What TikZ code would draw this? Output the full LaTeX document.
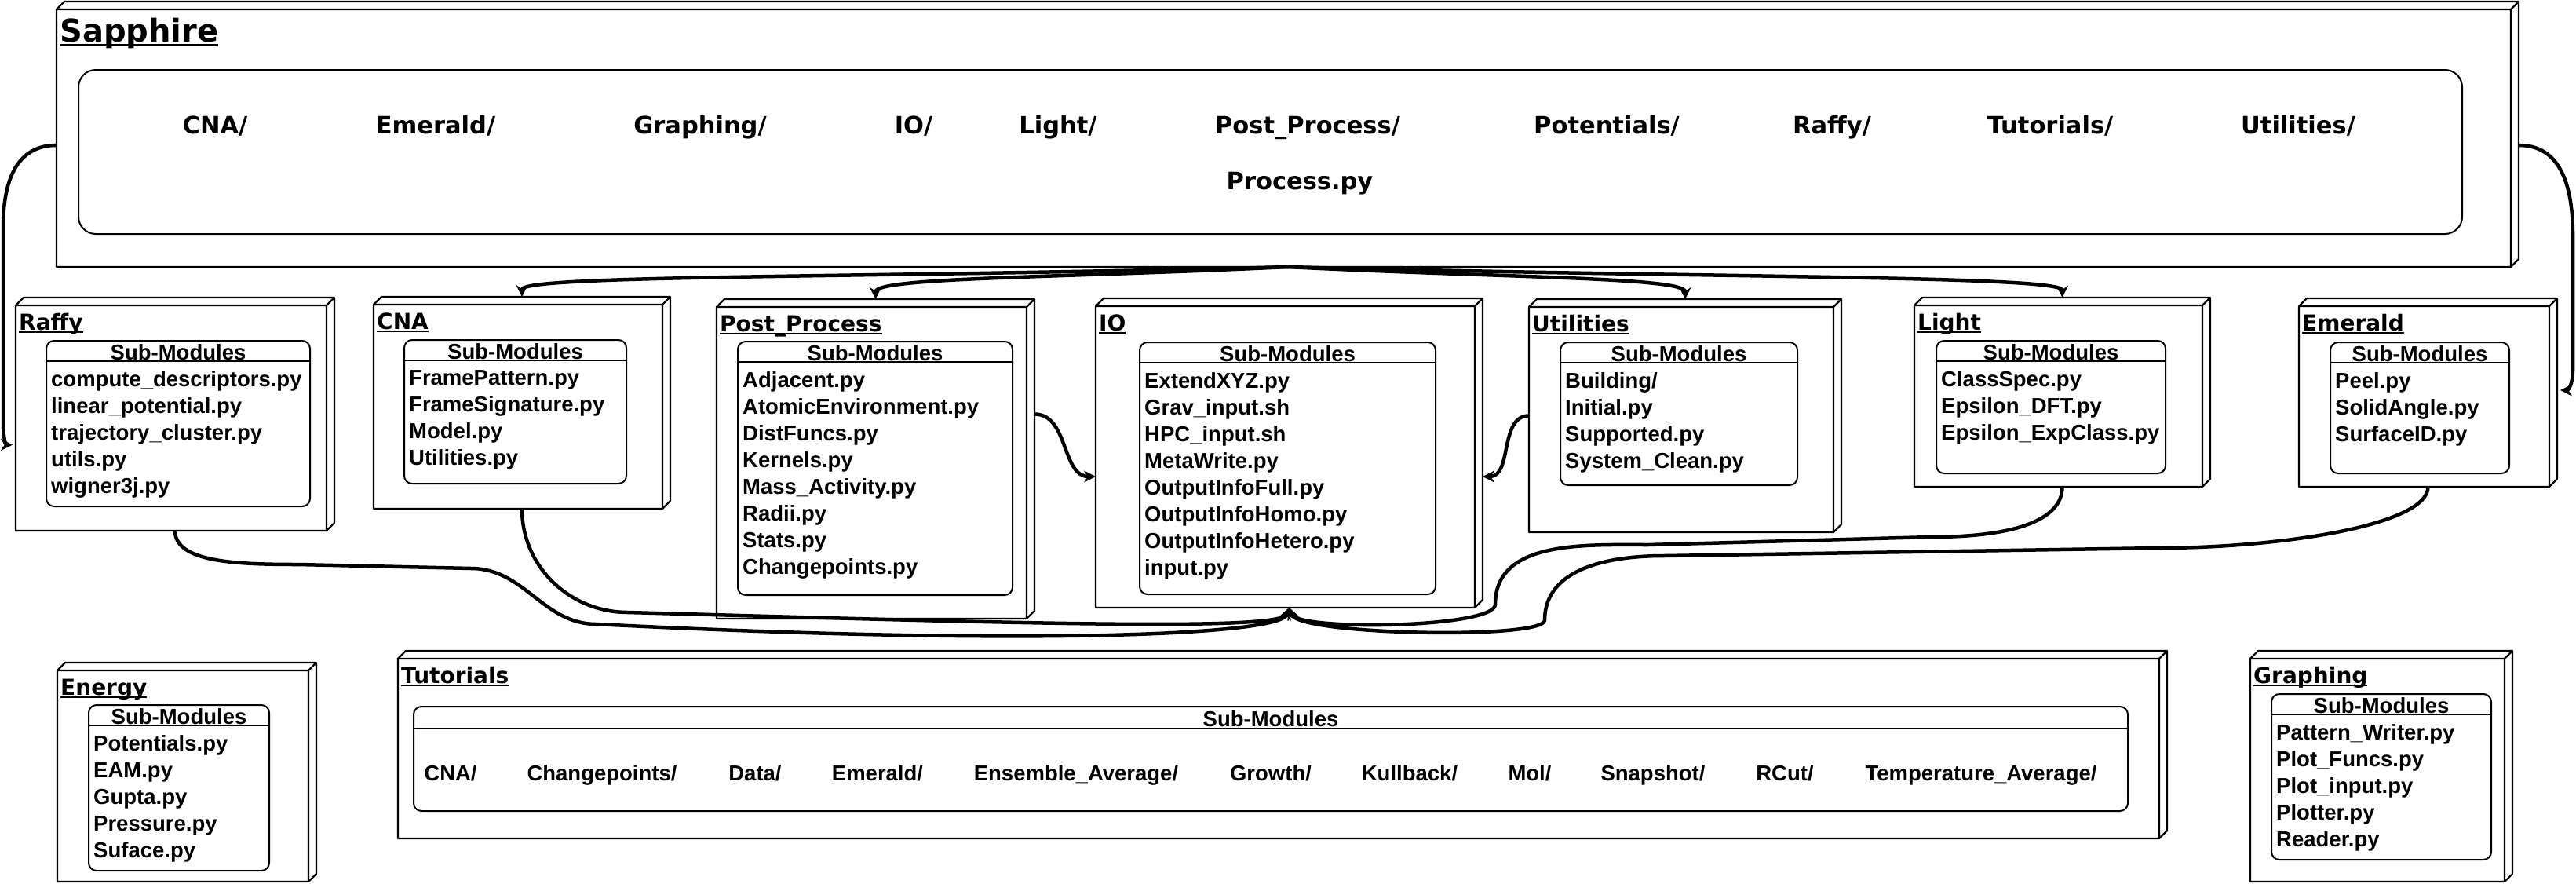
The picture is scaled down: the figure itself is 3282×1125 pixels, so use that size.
\documentclass[tikz,border=0pt]{standalone}
\usepackage{fontspec}
\setmainfont{Liberation Sans}
\newfontfamily\verafont{DejaVu Sans}
\usetikzlibrary{arrows.meta,calc}
\tikzset{
>={Stealth[length=15pt,width=15pt]},
modbox/.style={inner sep=0pt,outer sep=0pt,anchor=north west},
faccia/.style={line width=2.2pt,line join=round},
sotto/.style={draw,line width=2pt,rounded corners=10pt,inner sep=0pt,outer sep=0pt,anchor=north west},
sottolinea/.style={line width=2pt},
titolo/.style={anchor=base west,inner sep=0pt,font=\verafont\bfseries\fontsize{28}{33}\selectfont},
intest/.style={anchor=base,inner sep=0pt,font=\bfseries\fontsize{27.5}{32}\selectfont},
voci/.style={anchor=north west,inner sep=0pt,align=left,font=\bfseries\fontsize{27.5}{34}\selectfont},
cartella/.style={anchor=base,inner sep=0pt,font=\verafont\bfseries\fontsize{30.5}{36}\selectfont},
freccia/.style={->,line width=4.5pt}}

% underline sitting just under the baseline
\newcommand{\undl}[1]{\setbox0=\hbox{#1}\rlap{\rule[-0.16em]{\wd0}{0.08em}}\box0}
% top and side faces of a 3d box
\newcommand{\facce}[1]{%
\draw[faccia] ([yshift=-10pt]#1.north west) -- ([xshift=10pt]#1.north west) -- (#1.north east)
  -- ([yshift=10pt]#1.south east) -- ([xshift=-10pt]#1.south east) -- (#1.south west) -- cycle
  ([yshift=-10pt]#1.north west) -- ([shift={(-10pt,-10pt)}]#1.north east) -- (#1.north east)
  ([shift={(-10pt,-10pt)}]#1.north east) -- ([xshift=-10pt]#1.south east);}
\newcommand{\modulo}[6]{%
\node[modbox,minimum width=#4,minimum height=#5] (#1) at (#2,#3) {};
\facce{#1}
\node[titolo] (#1-t) at ([shift={(4pt,-41pt)}]#1.north west) {\undl{#6}};}
\newcommand{\sottomoduli}[6]{%
\node[sotto,minimum width=#4,minimum height=#5] (#1) at (#2,#3) {};
\draw[sottolinea] ([yshift=-26pt]#1.north west) -- ([yshift=-26pt]#1.north east);
\node[intest] (#1-h) at ([yshift=-24pt]#1.north) {Sub-Modules};
\node[voci] (#1-v) at ([shift={(6pt,-38pt)}]#1.north west) {#6};}

\begin{document}
\begin{tikzpicture}[x=1pt,y=-1pt]

\useasboundingbox (0,0) rectangle (3282,1125);
\fill[white] (0,0) rectangle (3282,1125);

% main package
\node[modbox,minimum width=3137,minimum height=338] (sapphire) at (72,2) {};
\facce{sapphire}
\node[titolo,font=\verafont\bfseries\fontsize{40}{46}\selectfont] (sapphire-t) at ([shift={(4pt,-51pt)}]sapphire.north west) {\undl{Sapphire}};
\node[sotto,rounded corners=22pt,minimum width=3037,minimum height=209] (sapin) at (100,89) {};
\foreach \x/\d [count=\i] in {274/CNA,555/Emerald,892/Graphing,1164/IO,1348/Light,1666/Post\_Process,2047/Potentials,2334/Raffy,2612/Tutorials,2928/Utilities}
  \node[cartella] (dir\i) at (\x,170) {\d/};
\node[cartella] (process) at (1656,241) {Process.py};

% modules
\modulo{raffy}{20}{379}{406}{297}{Raffy}
\modulo{cna}{476}{378}{378}{270}{CNA}
\modulo{post}{913}{381}{405}{407}{Post\_Process}
\modulo{io}{1396}{380}{493}{394}{IO}
\modulo{utilities}{1948}{381}{398}{297}{Utilities}
\modulo{light}{2439}{379}{377}{241}{Light}
\modulo{emerald}{2929}{380}{329}{240}{Emerald}
\modulo{energy}{73}{844}{330}{279}{Energy}
\modulo{tutorials}{507}{829}{2254}{239}{Tutorials}
\modulo{graphing}{2867}{829}{334}{294}{Graphing}

\sottomoduli{raffy-s}{59}{434}{336}{211}{compute\_descriptors.py\\linear\_potential.py\\trajectory\_cluster.py\\utils.py\\wigner3j.py}
\sottomoduli{cna-s}{515}{433}{283}{183}{FramePattern.py\\FrameSignature.py\\Model.py\\Utilities.py}
\sottomoduli{post-s}{940}{435}{350}{323}{Adjacent.py\\AtomicEnvironment.py\\DistFuncs.py\\Kernels.py\\Mass\_Activity.py\\Radii.py\\Stats.py\\Changepoints.py}
\sottomoduli{io-s}{1452}{436}{377}{321}{ExtendXYZ.py\\Grav\_input.sh\\HPC\_input.sh\\MetaWrite.py\\OutputInfoFull.py\\OutputInfoHomo.py\\OutputInfoHetero.py\\input.py}
\sottomoduli{utilities-s}{1988}{436}{302}{182}{Building/\\Initial.py\\Supported.py\\System\_Clean.py}
\sottomoduli{light-s}{2467}{434}{292}{169}{ClassSpec.py\\Epsilon\_DFT.py\\Epsilon\_ExpClass.py}
\sottomoduli{emerald-s}{2969}{436}{228}{167}{Peel.py\\SolidAngle.py\\SurfaceID.py}
\sottomoduli{energy-s}{113}{898}{230}{211}{Potentials.py\\EAM.py\\Gupta.py\\Pressure.py\\Suface.py}
\sottomoduli{graphing-s}{2894}{884}{280}{211}{Pattern\_Writer.py\\Plot\_Funcs.py\\Plot\_input.py\\Plotter.py\\Reader.py}

% tutorials, one row
\node[sotto,minimum width=2184,minimum height=133] (tutsub) at (527,900) {};
\draw[sottolinea] ([yshift=-28pt]tutsub.north west) -- ([yshift=-28pt]tutsub.north east);
\node[intest] (tutsub-h) at ([yshift=-25pt]tutsub.north) {Sub-Modules};
\foreach \x/\d [count=\i] in {574/CNA,767/Changepoints,962/Data,1118/Emerald,1371/Ensemble\_Average,1619/Growth,1796/Kullback,1949/Mol,2106/Snapshot,2274/RCut,2524/Temperature\_Average}
  \node[intest] (tut\i) at (\x,994) {\d/};

% Sapphire -> modules
\draw[freccia] (sapphire.south) .. controls +(-536,14) and +(0,-28) .. (cna.north);
\draw[freccia] (sapphire.south) .. controls +(-290,14) and +(0,-28) .. (post.north);
\draw[freccia] (sapphire.south) .. controls +(280,14) and +(0,-28) .. (utilities.north);
\draw[freccia] (sapphire.south) .. controls +(543,14) and +(0,-28) .. (light.north);
\draw[freccia] ([yshift=-14pt]sapphire.west) .. controls +(-45,0) and +(0,-70) .. (4,290) -- (4,540)
  .. controls +(0,18) and +(-8,0) .. ([shift={(-4pt,-39pt)}]raffy.west);
\draw[freccia] ([yshift=-14pt]sapphire.east) .. controls +(50,0) and +(0,-70) .. (3278,300) -- (3278,470)
  .. controls +(0,20) and +(10,0) .. ([shift={(4pt,3pt)}]emerald.east);

% into IO
\draw[freccia] ([yshift=57pt]post.east) to[out=0,in=180] ([yshift=-30pt]io.west);
\draw[freccia] (utilities.west) to[out=180,in=0] ([yshift=-30pt]io.east);
\draw[freccia] (raffy.south) .. controls +(0,40) and +(-80,0) .. (380,719) -- (600,724) to[out=0,in=180] (760,795)
  .. controls +(550,28) and +(-12,35) .. (io.south);
\draw[freccia] (cna.south) to[out=-90,in=180] (800,780) .. controls +(500,14) and +(-12,30) .. (io.south);
\draw[freccia] (light.south) .. controls +(0,45) and +(100,0) .. (2460,684) -- (2100,694) to[out=180,in=90] (1905,770)
  .. controls +(0,30) and +(12,30) .. (io.south);
\draw[freccia] (emerald.south) .. controls +(0,50) and +(150,0) .. (2750,698) -- (2120,708) to[out=180,in=90] (1968,790)
  .. controls +(0,25) and +(12,35) .. (io.south);

\end{tikzpicture}
\end{document}
